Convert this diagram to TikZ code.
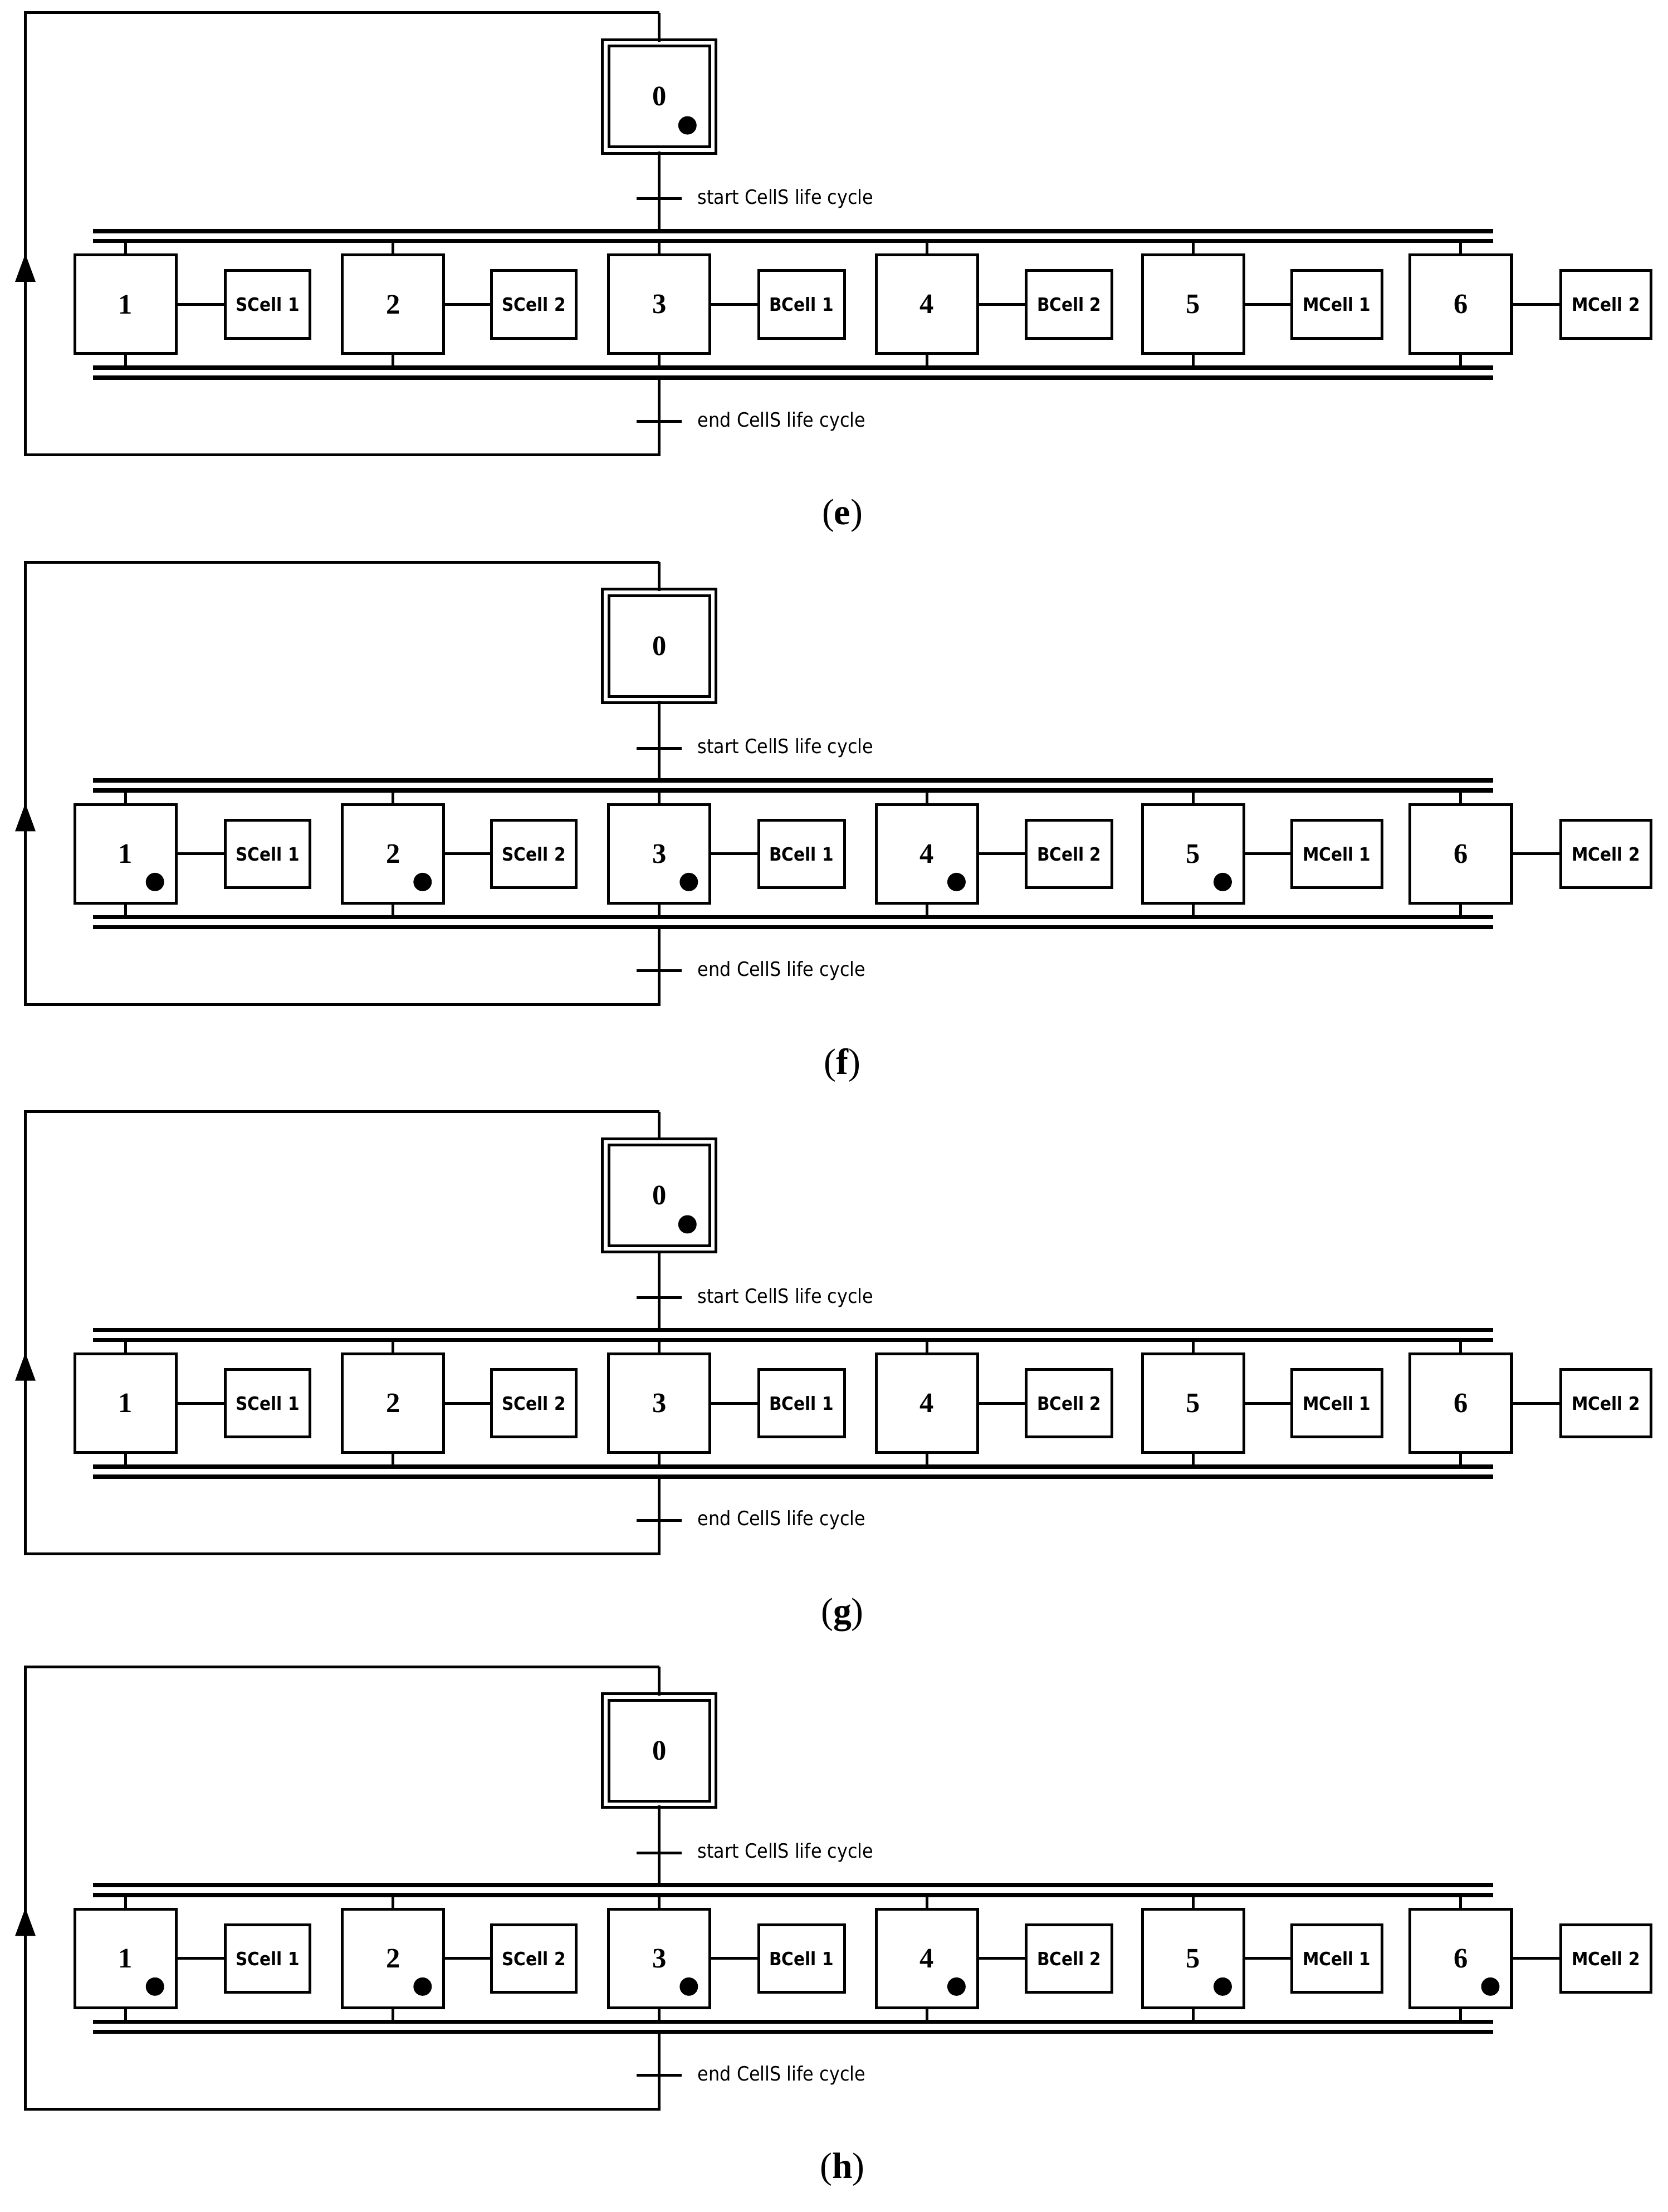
\documentclass[tikz,border=0pt]{standalone}
\usepackage{fontspec}
\setmainfont{Liberation Serif}
\newfontfamily\lblfont[FakeStretch=0.9]{DejaVu Sans}
\usetikzlibrary{arrows.meta,calc}
\begin{document}
\begin{tikzpicture}[x=1pt,y=-1pt,line width=2pt,
  stepbox/.style={draw,minimum width=72pt,minimum height=70pt,font=\bfseries\fontsize{20}{22}\selectfont},
  initbox/.style={draw,double,double distance=2.5pt,minimum width=76pt,minimum height=76pt,font=\bfseries\fontsize{20}{22}\selectfont},
  actbox/.style={draw,minimum height=48pt,inner sep=1pt,font=\lblfont\bfseries\fontsize{13}{15}\selectfont},
  trlabel/.style={anchor=west,font=\lblfont\fontsize{14}{16}\selectfont},
  bar/.style={line width=3pt},
  tok/.style={fill,circle,inner sep=0pt,minimum size=13pt}]
\useasboundingbox (0,0) rectangle (1184,1570);
\foreach \oy/\cap/\zero/\toks in {0/e/1/{},390/f/0/{1,2,3,4,5},780/g/1/{},1174/h/0/{1,2,3,4,5,6}}{
  \begin{scope}[yshift=-\oy pt]
  \node[initbox] (z\cap) at (468,68.5) {0};
  \ifnum\zero=1 \node[tok] (zt\cap) at (488,89) {};\fi
  \coordinate (tl\cap) at (18,9);
  \coordinate (tr\cap) at (468,9);
  \coordinate (bl\cap) at (18,323);
  \coordinate (br\cap) at (468,323);
  \coordinate (ta\cap) at (468,164);
  \coordinate (tb\cap) at (468,268);
  \draw (tr\cap) -- (z\cap.north);
  \draw (z\cap.south) -- (ta\cap);
  \draw (tb\cap) -- (br\cap) -- (bl\cap) -- (tl\cap) -- (tr\cap);
  \draw[-{Triangle[length=20pt,width=14pt]}] (bl\cap) -- (18,180);
  \draw (452,141) -- (484,141);
  \draw (452,299) -- (484,299);
  \node[trlabel] (ls\cap) at (491,141) {start CellS life cycle};
  \node[trlabel] (le\cap) at (491,299) {end CellS life cycle};
  \draw[bar] (66,164) -- (1060,164);
  \draw[bar] (66,171) -- (1060,171);
  \draw[bar] (66,261) -- (1060,261);
  \draw[bar] (66,268) -- (1060,268);
  \foreach \i/\sx/\ax/\aw/\lab in {1/89/190/60/SCell 1,2/279/379/60/SCell 2,3/468/569/61/BCell 1,4/658/759/61/BCell 2,5/847/949/64/MCell 1,6/1037/1140/64/MCell 2}{
    \node[stepbox] (s\cap\i) at (\sx,216) {\i};
    \node[actbox,minimum width=\aw pt] (a\cap\i) at (\ax,216) {\lab};
    \draw (s\cap\i.east) -- (a\cap\i.west);
    \draw (\sx,171) -- (s\cap\i.north);
    \draw (s\cap\i.south) -- (\sx,261);
  }
  \foreach \t in \toks {
    \node[tok] (k\cap\t) at ($(s\cap\t.center)+(21,20)$) {};
  }
  \node[font=\fontsize{26}{28}\selectfont] (c\cap) at (598,366) {(\textbf{\cap})};
  \end{scope}
}
\end{tikzpicture}
\end{document}
